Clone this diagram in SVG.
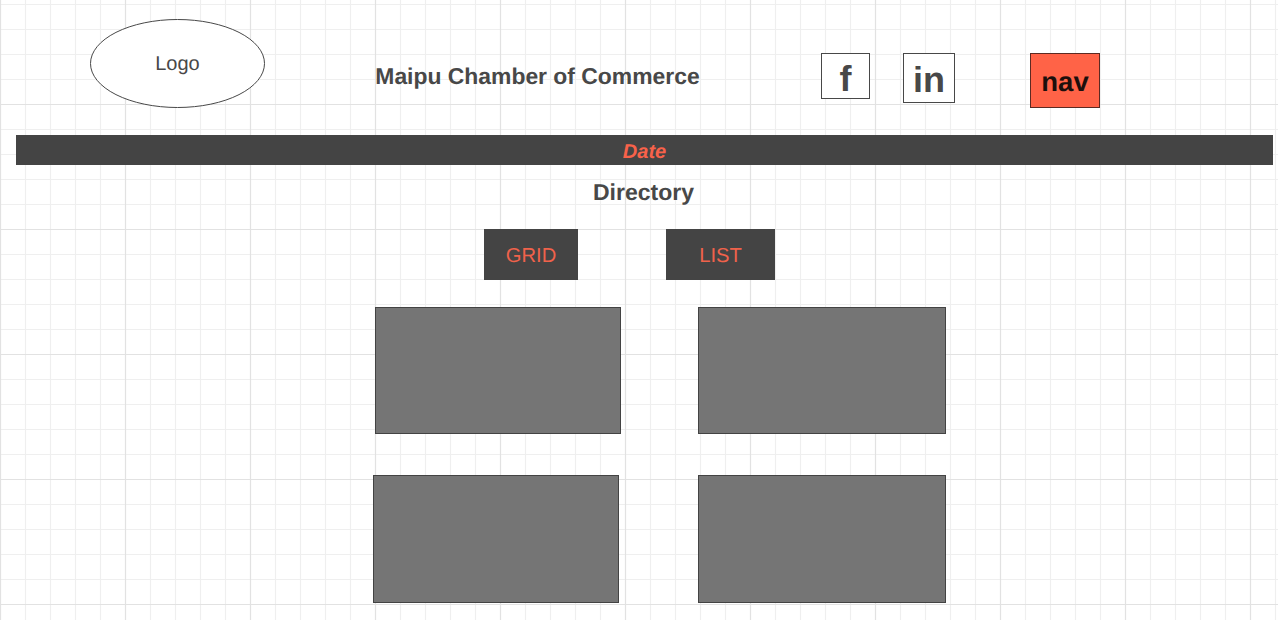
<svg xmlns="http://www.w3.org/2000/svg" width="1278" height="626" viewBox="0 0 1278 626">
<defs>
<pattern id="minor" x="0" y="4" width="25" height="25" patternUnits="userSpaceOnUse"><path d="M.5 0V25M0 .5H25" fill="none" stroke="#efefef" stroke-width="1.150"/><path d="M25.500 0V25M0 25.500H25" fill="none" stroke="#efefef" stroke-width="1.150"/></pattern>
<pattern id="major" x="0" y="4" width="125" height="125" patternUnits="userSpaceOnUse"><path d="M.5 0V125M125.500 0V125M0 100.500H125" fill="none" stroke="#e2e2e2" stroke-width="1.150"/></pattern>
</defs>
<style>
text{font-family:"Liberation Sans",Arial,sans-serif;text-anchor:middle;fill:#484848;opacity:.999;text-rendering:geometricPrecision}
.b{font-weight:700}
.card{fill:#757575;stroke:#434343;stroke-width:1}
.dark{fill:#444444}
.box{fill:#fff;stroke:#484848;stroke-width:1}
text.acc{fill:#f0624b}
</style>
<rect width="1278" height="626" fill="#fff"/>
<rect x="0" y="0" width="1278" height="620" fill="url(#minor)"/>
<rect x="0" y="0" width="1278" height="620" fill="url(#major)"/>
<g id="logo"><ellipse cx="177.500" cy="63.500" rx="87" ry="44" class="box"/><text x="177.500" y="70" font-size="20">Logo</text></g>
<g id="title"><text x="537.500" y="84" font-size="22.900" class="b">Maipu Chamber of Commerce</text></g>
<g id="facebook"><rect x="821.500" y="53.500" width="48" height="45" class="box"/><text x="845.500" y="91" font-size="36" class="b">f</text></g>
<g id="linkedin"><rect x="903.500" y="53.500" width="51" height="49" class="box"/><text x="929" y="92" font-size="36" class="b">in</text></g>
<g id="nav"><rect x="1030.500" y="53.500" width="69" height="54" fill="#ff6347" stroke="#5c2a22"/><text x="1065" y="90.500" font-size="27.500" class="b" style="fill:#1c0f0c">nav</text></g>
<g id="date"><rect x="16" y="135" width="1257" height="30" class="dark"/><text x="644.500" y="158.300" font-size="20" font-weight="700" font-style="italic" style="fill:#f8624a">Date</text></g>
<g id="directory"><text x="643.500" y="200.300" font-size="23" class="b">Directory</text></g>
<g id="grid"><rect x="484" y="229" width="94" height="51" class="dark"/><text x="531" y="262" font-size="20.200" class="acc">GRID</text></g>
<g id="list"><rect x="666" y="229" width="109" height="51" class="dark"/><text x="720.500" y="262" font-size="20.200" class="acc">LIST</text></g>
<g id="card1"><rect x="375.500" y="307.500" width="245" height="126" class="card"/></g>
<g id="card2"><rect x="698.500" y="307.500" width="247" height="126" class="card"/></g>
<g id="card3"><rect x="373.500" y="475.500" width="245" height="127" class="card"/></g>
<g id="card4"><rect x="698.500" y="475.500" width="247" height="127" class="card"/></g>
<g id="connectors"/>
</svg>
